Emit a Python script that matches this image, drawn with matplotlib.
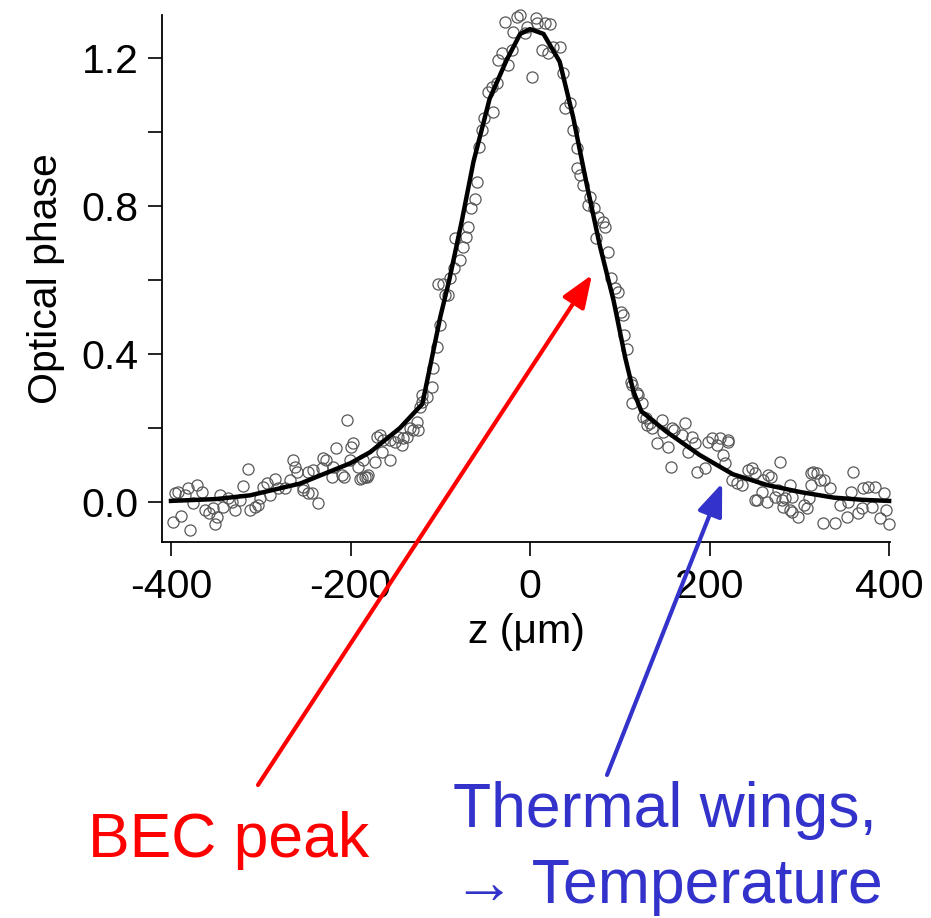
import matplotlib
matplotlib.use('Agg')
import matplotlib.pyplot as plt

plt.rcParams['font.family'] = ['Liberation Sans', 'DejaVu Sans']

# fitted profile
fit_z = [-400, -350, -312, -256, -200, -178, -145, -120, -111, -100, -90, -76, -63, -45, -26, -11,
         0, 15, 33, 48, 63, 78, 93, 106, 115, 124, 152, 189, 226, 264, 301, 338, 370, 400]
fit_phase = [0.003, 0.008, 0.018, 0.05, 0.105, 0.135, 0.20, 0.265, 0.37, 0.50, 0.60, 0.76, 0.92,
             1.09, 1.195, 1.265, 1.278, 1.265, 1.19, 1.04, 0.86, 0.69, 0.545, 0.39, 0.30, 0.245,
             0.19, 0.127, 0.075, 0.046, 0.027, 0.012, 0.006, 0.003]

# measured points
data_z = [-396, -392, -384, -381, -371, -365, -376, -398, -389, -379, -362, -358, -353, -345, -349,
          -351, -342, -336, -332, -329, -323, -320, -314, -312, -306, -303, -301, -298, -293, -290,
          -284, -281, -273, -267, -264, -262, -260, -253, -247, -253, -247, -243, -236, -242, -232,
          -231, -227, -221, -220, -216, -210, -207, -204, -201, -199, -197, -192, -189, -187, -186,
          -184, -182, -180, -173, -171, -167, -165, -164, -156, -156, -150, -147, -143, -142, -137,
          -134, -130, -126, -125, -123, -120, -120, -115, -109, -108, -104, -100, -102, -97, -95,
          -91, -89, -85, -78, -84, -75, -71, -69, -66, -61, -59, -57, -53, -51, -41, -47, -42, -37,
          -36, -31, -25, -20, -28, -15, -11, -19, -6, -3, 2, 7, 8, 17, 22, 13, 20, 26, 33, 37, 39,
          45, 48, 52, 52, 56, 59, 67, 64, 71, 76, 81, 84, 73, 87, 90, 95, 98, 101, 103, 105, 108,
          112, 114, 119, 114, 125, 120, 126, 129, 130, 134, 136, 147, 148, 141, 154, 158, 160, 157,
          169, 173, 176, 180, 184, 186, 195, 198, 203, 208, 212, 215, 217, 220, 221, 225, 231, 236,
          243, 247, 251, 251, 253, 258, 260, 264, 265, 268, 273, 276, 278, 281, 282, 284, 290, 290,
          292, 292, 298, 305, 308, 311, 313, 313, 315, 320, 323, 326, 327, 334, 340, 345, 353, 354,
          358, 360, 365, 370, 371, 377, 381, 384, 390, 394, 396, 400]
data_phase = [0.024, 0.027, 0.019, 0.038, 0.046, 0.027, -0.003, -0.054, -0.038, -0.076, -0.022,
              -0.030, -0.016, 0.019, -0.040, -0.060, -0.013, 0.011, 0.000, -0.022, 0.005, 0.043,
              0.089, -0.022, -0.013, -0.008, 0.011, 0.041, 0.051, 0.019, 0.062, 0.038, 0.038, 0.059,
              0.114, 0.095, 0.081, 0.041, 0.081, 0.032, 0.024, 0.024, -0.003, 0.086, 0.092, 0.119,
              0.114, 0.068, 0.095, 0.146, 0.073, 0.068, 0.222, 0.114, 0.149, 0.159, 0.095, 0.062,
              0.065, 0.114, 0.068, 0.068, 0.073, 0.108, 0.176, 0.181, 0.135, 0.168, 0.114, 0.168,
              0.162, 0.176, 0.154, 0.173, 0.176, 0.200, 0.195, 0.216, 0.195, 0.257, 0.270, 0.289,
              0.284, 0.311, 0.362, 0.420, 0.478, 0.590, 0.590, 0.560, 0.560, 0.605, 0.632, 0.654,
              0.714, 0.690, 0.716, 0.743, 0.795, 0.819, 0.865, 0.960, 1.005, 1.038, 1.054, 1.108,
              1.122, 1.132, 1.195, 1.214, 1.181, 1.222, 1.297, 1.311, 1.316, 1.270, 1.268, 1.284,
              1.149, 1.308, 1.295, 1.295, 1.292, 1.222, 1.214, 1.230, 1.230, 1.159, 1.065, 1.078,
              1.005, 0.957, 0.903, 0.884, 0.857, 0.824, 0.803, 0.795, 0.770, 0.757, 0.743, 0.714,
              0.676, 0.605, 0.578, 0.568, 0.514, 0.505, 0.451, 0.414, 0.324, 0.316, 0.295, 0.268,
              0.268, 0.289, 0.230, 0.227, 0.208, 0.214, 0.200, 0.222, 0.189, 0.159, 0.149, 0.200,
              0.195, 0.095, 0.181, 0.214, 0.135, 0.176, 0.159, 0.081, 0.092, 0.162, 0.173, 0.154,
              0.173, 0.127, 0.105, 0.168, 0.162, 0.059, 0.051, 0.046, 0.086, 0.092, 0.078, 0.005,
              0.005, 0.027, 0.059, 0.000, 0.073, 0.068, 0.014, 0.032, 0.108, 0.005, -0.013, 0.011,
              0.046, -0.022, -0.027, 0.014, -0.040, -0.008, -0.016, 0.011, 0.078, 0.046, 0.081,
              0.078, 0.059, -0.057, 0.059, 0.038, -0.057, -0.008, -0.040, 0.000, 0.027, 0.081,
              -0.030, -0.016, 0.038, 0.041, -0.013, 0.041, -0.043, 0.024, -0.022, -0.059]

x_ticks = [-400, -200, 0, 200, 400]
y_ticks = [0.0, 0.4, 0.8, 1.2]
y_minor = [0.2, 0.6, 1.0]

fig = plt.figure(figsize=(9.31, 9.18), dpi=100)
ax = fig.add_axes([0.174, 0.4096, 0.782, 0.574])

ax.plot(data_z, data_phase, 'o', ms=8, mfc='none', mec='#585858', mew=0.9, clip_on=False)
ax.plot(fit_z, fit_phase, '-', color='black', lw=3.2, clip_on=False)

ax.set_xlim(-410, 401)
ax.set_ylim(-0.108, 1.316)
ax.spines['top'].set_visible(False)
ax.spines['right'].set_visible(False)
for s in ['left', 'bottom']:
    ax.spines[s].set_linewidth(1.3)

ax.set_xticks(x_ticks)
ax.set_xticklabels([str(v) for v in x_ticks])
ax.set_yticks(y_ticks)
ax.set_yticklabels(['%.1f' % v for v in y_ticks])
ax.set_yticks(y_minor, minor=True)
ax.tick_params(axis='both', which='both', direction='out', length=10, width=1.2, labelsize=29.5)
ax.tick_params(axis='x', pad=9)
ax.tick_params(axis='y', pad=7)

ax.set_xlabel('z (μm)', fontsize=29.5, labelpad=5)
ax.set_ylabel('Optical phase', fontsize=29.5, labelpad=12)

# arrows pointing into the profile
red = '#FF0000'
blue = '#3333CC'
ax.annotate('', xy=(69, 0.614), xycoords='data', xytext=(258, 133), textcoords='figure pixels',
            arrowprops=dict(arrowstyle='-|>,head_length=0.9,head_width=0.35', color=red, lw=3,
                            mutation_scale=22, shrinkA=0, shrinkB=0), annotation_clip=False)
ax.annotate('', xy=(214, 0.051), xycoords='data', xytext=(607, 143), textcoords='figure pixels',
            arrowprops=dict(arrowstyle='-|>,head_length=0.9,head_width=0.35', color=blue, lw=3,
                            mutation_scale=22, shrinkA=0, shrinkB=0), annotation_clip=False)

fig.text(88 / 931, 1 - 857 / 918, 'BEC peak', color=red, fontsize=45, ha='left', va='baseline')
fig.text(453 / 931, 1 - 827 / 918, 'Thermal wings,', color=blue, fontsize=45, ha='left',
         va='baseline')
fig.text(453 / 931, 1 - 903 / 918, '→ Temperature', color=blue, fontsize=45, ha='left',
         va='baseline')

fig.savefig('out.png', dpi=100)
